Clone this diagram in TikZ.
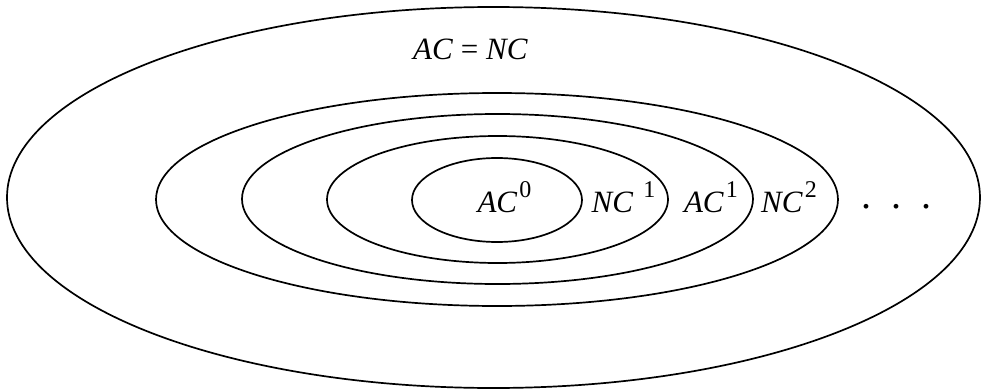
\documentclass[tikz,border=0pt]{standalone}
\usepackage{fontspec}
\setmainfont{Liberation Serif}
\usetikzlibrary{shapes.geometric}
\newcommand{\cls}[2]{\textit{#1}\hspace{1pt}\raisebox{7pt}{\fontsize{12}{14}\selectfont #2}}
\tikzset{
  cset/.style={draw, ellipse, line width=0.85pt, inner sep=0pt, outer sep=0pt},
  lbl/.style={anchor=base, inner sep=0pt, font=\fontsize{15.5}{18}\selectfont},
}

\begin{document}
\begin{tikzpicture}[x=0.5pt, y=-0.5pt]
  \useasboundingbox (0,0) rectangle (982,391);
  % nested classes
  \node[cset, minimum width=486.5pt, minimum height=190.5pt] (all) at (493.5,197.5) {};
  \node[cset, minimum width=341pt, minimum height=106.5pt] (nc2) at (497,199.5) {};
  \node[cset, minimum width=255.5pt, minimum height=85pt] (ac1) at (497.5,199) {};
  \node[cset, minimum width=170.5pt, minimum height=63.5pt] (nc1) at (497.5,199.5) {};
  \node[cset, minimum width=85pt, minimum height=42pt] (ac0) at (497,200) {};
  % labels
  \node[lbl] (lall) at (470.5,60) {\textit{AC} = \textit{NC}};
  \node[lbl] (lac0) at (504.5,212) {\cls{AC}{0}};
  \node[lbl] (lnc1) at (623.5,212) {\cls{NC}{\hspace{4pt}1}};
  \node[lbl] (lac1) at (711,212) {\cls{AC}{1}};
  \node[lbl] (lnc2) at (789,212) {\cls{NC}{2}};
  \node[lbl, font=\fontsize{20}{22}\selectfont] (dots) at (896,208.5) {.\hspace{10pt}.\hspace{10pt}.};
\end{tikzpicture}
\end{document}
